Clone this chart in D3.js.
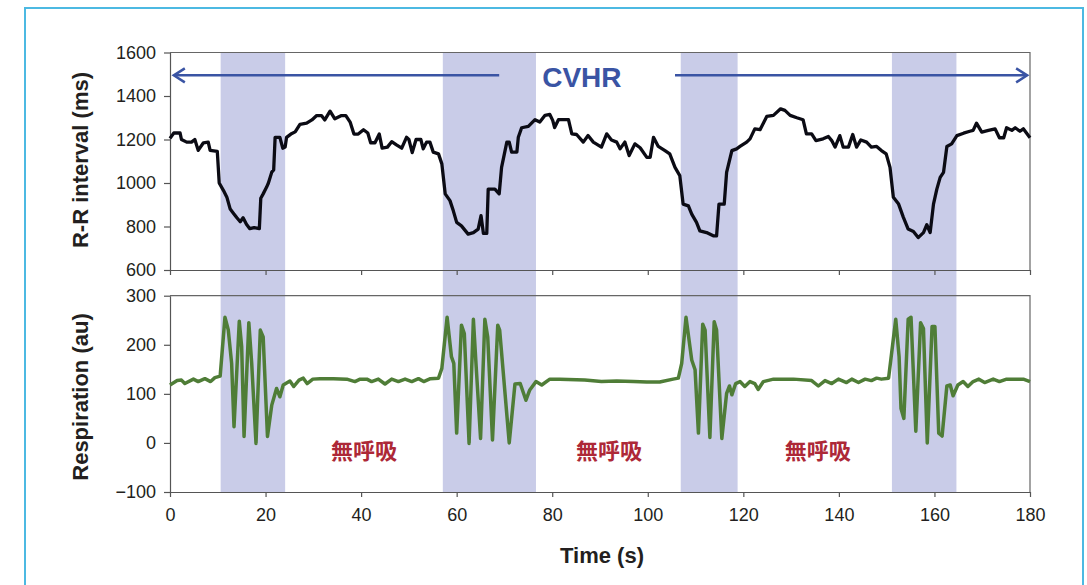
<!DOCTYPE html>
<html>
<head>
<meta charset="utf-8">
<script src="https://cdn.jsdelivr.net/npm/d3@7"></script>
<style>
  body { margin: 0; background: #fff; }
  svg { display: block; font-family: "Liberation Sans", Arial, sans-serif; }
</style>
</head>
<body>
<svg id="chart" width="1087" height="585"></svg>
<script>
// R-R interval (ms), beat by beat
const rrTime = [0,0.8,2.1,2.4,3.5,4.5,5.2,5.9,7.0,8.0,8.4,9.9,10.3,11.2,11.9,12.6,13.3,14.0,14.7,15.3,16.0,16.7,17.6,18.7,19.0,19.5,20.2,20.6,21.3,21.7,22.0,23.0,23.6,24.1,24.4,25.3,26.2,27.2,28.6,29.7,30.7,31.7,32.4,33.5,34.5,35.9,36.8,37.7,38.5,39.4,40.5,41.4,42.0,42.9,43.8,44.4,45.5,46.4,47.4,48.5,49.5,50.0,50.7,51.5,52.5,53.0,53.7,54.4,55.1,56.2,56.9,57.6,58.6,59.3,60.0,61.0,62.4,63.5,64.5,65.1,65.6,66.3,66.6,68.0,68.9,69.4,70.5,71.0,71.5,72.6,72.9,73.6,75.0,76.4,77.4,78.5,79.5,80.1,80.5,81.3,83.4,84.1,85.1,86.5,87.5,88.6,90.3,91.4,92.4,93.5,94.2,95.2,96.1,97.3,98.4,99.8,100.5,101.2,102.2,103.6,104.6,105.7,106.7,107.4,108.5,109.2,110.2,110.9,112.3,113.7,114.4,114.9,116.0,116.5,117.6,118.6,119.3,120.7,121.4,122.4,123.5,124.9,126.3,127.8,128.7,129.8,131.2,132.5,133.2,134.3,135.2,136.7,137.8,138.5,139.2,140.2,140.9,142.0,142.9,143.7,144.6,145.8,146.8,147.9,148.9,149.9,150.7,151.4,152.5,153.5,154.5,155.6,156.6,157.7,158.4,159.1,159.8,160.5,161.2,161.9,162.6,163.6,164.7,166.1,167.4,168.1,168.8,169.9,171.3,172.7,173.6,174.5,175.1,176.2,176.9,177.9,178.6,180]
const rrValue = [1205,1230,1230,1200,1188,1188,1200,1150,1185,1188,1150,1145,1000,965,935,880,860,840,822,840,810,790,795,790,930,950,980,1000,1050,1060,1210,1210,1160,1165,1210,1225,1235,1270,1275,1290,1310,1310,1290,1330,1295,1310,1310,1280,1225,1225,1245,1230,1185,1185,1225,1160,1165,1190,1175,1160,1210,1200,1140,1200,1200,1157,1188,1188,1142,1134,1088,950,919,872,819,803,765,772,788,850,768,768,972,972,950,1072,1188,1188,1142,1142,1210,1254,1260,1291,1280,1311,1315,1288,1255,1291,1291,1226,1223,1188,1218,1188,1165,1226,1198,1188,1157,1188,1126,1180,1162,1118,1118,1210,1168,1149,1134,1072,1034,903,895,857,819,780,772,757,757,903,903,1049,1149,1157,1168,1188,1203,1249,1245,1306,1311,1341,1334,1311,1300,1291,1226,1226,1195,1203,1214,1195,1165,1218,1165,1165,1223,1165,1198,1188,1165,1168,1149,1134,1072,934,903,842,788,777,749,772,808,772,903,972,1026,1049,1168,1180,1218,1229,1238,1242,1275,1234,1242,1249,1208,1208,1254,1242,1254,1238,1249,1208]

// Respiration (au)
const respTime = [0,1.5,2.4,3.1,4.9,5.9,7.3,8.5,9.4,10.5,11.5,12.2,12.9,13.4,14.5,15.0,15.5,16.5,17.1,18.0,18.9,19.5,20.4,21.3,22.3,23.0,23.7,25.1,25.9,27.0,27.9,28.7,29.9,31.4,34.2,37.0,38.7,39.8,41.2,42.2,43.6,45.0,46.4,47.8,49.2,50.6,52.0,53.1,54.5,56.2,56.9,58.0,58.9,59.4,60.0,61.0,61.6,62.6,63.5,64.0,65.0,65.9,66.5,67.5,68.6,69.0,71.0,72.2,73.3,74.5,75.3,76.6,77.8,79.5,81.6,86.8,90.3,93.5,97.0,99.8,102.5,105.3,106.4,107.1,108.0,109.2,109.9,110.6,111.5,112.0,113.0,113.9,114.4,115.5,116.5,117.1,117.6,118.4,119.3,120.3,121.4,122.4,123.1,124.2,126.3,130.5,134.3,135.7,137.1,138.5,139.9,141.6,142.7,144.1,145.5,146.8,147.9,148.9,150.4,151.2,151.9,152.6,153.0,153.6,154.5,155.1,156.1,157.1,157.7,158.5,159.5,160.1,160.9,161.6,162.6,163.3,163.9,164.9,166.0,167.0,168.1,169.3,170.5,172.3,173.6,175.1,178.6,180]
const respValue = [118,127,128,121,130,125,131,125,133,136,256,230,162,33,248,196,13,245,162,-1,230,216,13,77,111,94,118,126,115,128,132,121,130,131,131,130,125,130,130,125,130,120,130,125,130,125,131,125,131,132,152,256,176,162,20,240,223,-1,252,169,9,252,216,6,240,230,0,120,121,87,108,125,118,130,130,128,125,126,125,124,124,130,132,162,256,169,149,20,242,230,11,247,230,9,101,116,98,121,125,115,125,121,109,125,130,130,127,116,127,121,130,123,130,123,130,127,132,130,132,196,252,176,70,50,252,256,24,245,233,0,237,237,20,14,116,118,96,118,125,115,125,130,123,130,125,130,130,125]

// CVHR episodes (s), shaded
const bandStart = [10.6, 57.1, 106.9, 151.1]
const bandEnd = [24.1, 76.6, 118.8, 164.6]

// apnea label centres (s)
const apneaTime = [40.6, 91.9, 135.6]

const xTicks = d3.range(0, 181, 20)
const rrTicks = [600, 800, 1000, 1200, 1400, 1600]
const respTicks = [-100, 0, 100, 200, 300]

const svg = d3.select("#chart")

// light blue frame round the figure
svg.append("rect")
  .attr("x", 25).attr("y", 8)
  .attr("width", 1058).attr("height", 600)
  .attr("fill", "none")
  .attr("stroke", "#4cb9e2")
  .attr("stroke-width", 2)

const x = d3.scaleLinear().domain([0, 180]).range([170, 1030])
const yRR = d3.scaleLinear().domain([600, 1600]).range([270, 52.5])
const yResp = d3.scaleLinear().domain([-100, 300]).range([492, 295.7])

const axisColor = "#555"

// shaded bands (run through both panels)
svg.append("g").selectAll("rect")
  .data(bandStart)
  .join("rect")
  .attr("x", d => x(d))
  .attr("y", yRR(1600))
  .attr("width", (d, i) => x(bandEnd[i]) - x(d))
  .attr("height", yResp(-100) - yRR(1600))
  .attr("fill", "#c9cce8")

function box(yScale, lo, hi) {
  svg.append("path")
    .attr("d", `M${x(0)},${yScale(hi)}H${x(180)}V${yScale(lo)}`)
    .attr("fill", "none")
    .attr("stroke", "#666")
    .attr("stroke-width", 1.2)
}
box(yRR, 600, 1600)
box(yResp, -100, 300)

function styleAxis(g) {
  g.select(".domain").attr("stroke", axisColor).attr("stroke-width", 1.2)
  g.selectAll(".tick line").attr("stroke", axisColor).attr("stroke-width", 1.2)
  g.selectAll(".tick text")
    .attr("fill", "#231f20")
    .style("font-size", "18px")
    .style("font-family", "'Liberation Sans', Arial, sans-serif")
}

// top panel axes
svg.append("g")
  .attr("transform", `translate(${x(0)},0)`)
  .call(d3.axisLeft(yRR).tickValues(rrTicks).tickSize(6).tickPadding(8).tickSizeOuter(0)
    .tickFormat(d3.format("d")))
  .call(styleAxis)

svg.append("g")
  .attr("transform", `translate(0,${yRR(600)})`)
  .call(d3.axisBottom(x).tickValues(xTicks).tickSize(5).tickSizeOuter(0).tickFormat(""))
  .call(styleAxis)

// bottom panel axes
svg.append("g")
  .attr("transform", `translate(${x(0)},0)`)
  .call(d3.axisLeft(yResp).tickValues(respTicks).tickSize(6).tickPadding(8).tickSizeOuter(0)
    .tickFormat(d => d < 0 ? "\u2212" + Math.abs(d) : d))
  .call(styleAxis)

svg.append("g")
  .attr("transform", `translate(0,${yResp(-100)})`)
  .call(d3.axisBottom(x).tickValues(xTicks).tickSize(5).tickPadding(11).tickSizeOuter(0))
  .call(styleAxis)

// traces
const rrLine = d3.line()
  .x((d, i) => x(rrTime[i]))
  .y(d => yRR(d))

svg.append("path")
  .datum(rrValue)
  .attr("d", rrLine)
  .attr("fill", "none")
  .attr("stroke", "#0b0b14")
  .attr("stroke-width", 3.3)
  .attr("stroke-linejoin", "round")

const respLine = d3.line()
  .x((d, i) => x(respTime[i]))
  .y(d => yResp(d))

svg.append("path")
  .datum(respValue)
  .attr("d", respLine)
  .attr("fill", "none")
  .attr("stroke", "#4f7d37")
  .attr("stroke-width", 3.5)
  .attr("stroke-linejoin", "round")

// CVHR arrows
const arrowBlue = "#3a54a4"
const arrowY = yRR(1495)
function arrow(from, to) {
  const x1 = x(from), x2 = x(to)
  const dir = Math.sign(x2 - x1)
  svg.append("line")
    .attr("x1", x1).attr("x2", x2)
    .attr("y1", arrowY).attr("y2", arrowY)
    .attr("stroke", arrowBlue).attr("stroke-width", 2.5)
  svg.append("path")
    .attr("d", `M${x2 - dir * 11},${arrowY - 7}L${x2},${arrowY}L${x2 - dir * 11},${arrowY + 7}`)
    .attr("fill", "none")
    .attr("stroke", arrowBlue).attr("stroke-width", 2.5)
    .attr("stroke-linejoin", "miter")
}
arrow(68.9, 0.8)
arrow(105.7, 179.4)

svg.append("text")
  .attr("x", x(86.2))
  .attr("y", 86.5)
  .attr("text-anchor", "middle")
  .attr("fill", arrowBlue)
  .style("font-size", "28px")
  .style("font-weight", "bold")
  .text("CVHR")

// apnea labels
svg.append("g").selectAll("text")
  .data(apneaTime)
  .join("text")
  .attr("x", d => x(d))
  .attr("y", yResp(-17))
  .attr("dy", "0.36em")
  .attr("text-anchor", "middle")
  .attr("fill", "#ad2837")
  .style("font-family", "'Noto Sans CJK JP', sans-serif")
  .style("font-size", "22px")
  .style("font-weight", "bold")
  .text("無呼吸")

// axis titles
svg.append("text")
  .attr("transform", "translate(88,160) rotate(-90)")
  .attr("text-anchor", "middle")
  .attr("fill", "#231f20")
  .style("font-size", "22px")
  .style("font-weight", "bold")
  .text("R-R interval (ms)")

svg.append("text")
  .attr("transform", "translate(88,397) rotate(-90)")
  .attr("text-anchor", "middle")
  .attr("fill", "#231f20")
  .style("font-size", "22px")
  .style("font-weight", "bold")
  .text("Respiration (au)")

svg.append("text")
  .attr("x", 602)
  .attr("y", 563)
  .attr("text-anchor", "middle")
  .attr("fill", "#231f20")
  .style("font-size", "22px")
  .style("font-weight", "bold")
  .text("Time (s)")
</script>
</body>
</html>
